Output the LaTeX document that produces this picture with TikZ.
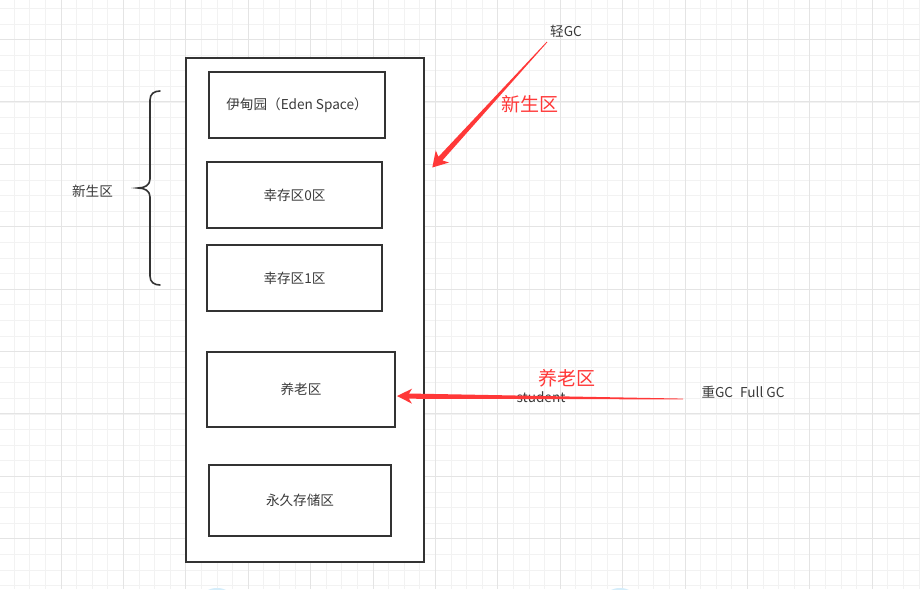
\documentclass[tikz,border=0pt]{standalone}
\usepackage{fontspec}
\setmainfont{Noto Sans CJK SC}
\usetikzlibrary{calc}
\definecolor{gridminor}{HTML}{F2F2F2}
\definecolor{gridmajor}{HTML}{E4E4E4}
\definecolor{boxline}{HTML}{333333}
\definecolor{txt}{HTML}{3A3A3A}
\definecolor{arrred}{HTML}{FF3838}
\definecolor{blob}{HTML}{D5EDFA}
\newcommand\taperarrow[4]{% tail, tip, head half width, shaft half width
  \coordinate (tmpB) at ($(#2)!12pt!(#1)$);
  \coordinate (tmpW) at ($(#2)!15pt!(#1)$);
  \fill[arrred] ($(#1)!0.4pt!90:(#2)$) -- ($(tmpB)!#4!90:(#2)$) -- ($(tmpW)!#3!90:(#2)$) -- (#2)
    -- ($(tmpW)!#3!-90:(#2)$) -- ($(tmpB)!#4!-90:(#2)$) -- ($(#1)!0.4pt!-90:(#2)$) -- cycle;
}
\begin{document}
\begin{tikzpicture}[x=1pt,y=-1pt,
  minorg/.style={draw=gridminor, line width=0.8pt},
  majorg/.style={draw=gridmajor, line width=0.9pt},
  box/.style={draw=boxline, line width=1.8pt, fill=white, inner sep=0pt,
    font=\fontsize{13.6}{15}\selectfont, text=txt},
  outerbox/.style={draw=boxline, line width=1.8pt, fill=white, inner sep=0pt},
  lbl/.style={font=\fontsize{13.6}{15}\selectfont, text=txt, inner sep=0pt},
  redlbl/.style={font=\fontsize{19}{21}\selectfont, text=arrred, inner sep=0pt},
  bracestyle/.style={draw=boxline, line width=1.6pt, line cap=round}]
\useasboundingbox (0,0) rectangle (920,589);
\fill[white] (0,0) rectangle (920,589);
% grid
\foreach \i in {0,...,58} \draw[minorg] ({14.2+15.6*\i},0) -- ++(0,589);
\foreach \j in {0,...,37} \draw[minorg] (0,{8.3+15.6*\j}) -- ++(920,0);
\foreach \i in {0,...,14} \draw[majorg] ({61+62.4*\i},0) -- ++(0,589);
\foreach \j in {0,...,9} \draw[majorg] (0,{39.5+62.4*\j}) -- ++(920,0);
% blobs at bottom edge
\fill[blob] (217,596) ellipse (14 and 8);
\fill[blob] (620,596) ellipse (14 and 8);
% heap
\node[outerbox, minimum width=238pt, minimum height=504pt] (heap) at (305,310) {};
\node[box, minimum width=176pt, minimum height=66pt] (eden) at (297,105) {伊甸园（Eden Space）};
\node[box, minimum width=175pt, minimum height=66pt] (s0) at (294.5,195) {幸存区0区};
\node[box, minimum width=175pt, minimum height=66pt] (s1) at (294.5,278) {幸存区1区};
\node[box, minimum width=188pt, minimum height=75pt] (old) at (301,389.5) {养老区};
\node[box, minimum width=182pt, minimum height=71pt] (perm) at (300,500.5) {永久存储区};
% brace
\draw[bracestyle] (160,91) .. controls (154,91) and (150,94) .. (150,100) -- (150,179)
  .. controls (150,185) and (145,188) .. (138,188)
  .. controls (145,188) and (150,191) .. (150,197) -- (150,276)
  .. controls (150,282) and (154,285) .. (160,285);
\node[lbl] (younglbl) at (92.5,191) {新生区};
% labels
\node[lbl] (light) at (566,31) {轻GC};
\node[redlbl] (youngred) at (530,104) {新生区};
\node[redlbl] (oldred) at (567,378) {养老区};
\node[lbl] (student) at (541,397) {student};
\node[lbl] (heavy) at (743,392) {重GC\hspace{7pt}Full GC};
% arrows
\coordinate (gc1) at (547,42);
\coordinate (young) at (432.3,167.5);
\coordinate (gc2) at (683,399);
\coordinate (oldtip) at (397,396);
\taperarrow{gc1}{young}{9pt}{2.7pt}
\taperarrow{gc2}{oldtip}{7.5pt}{2.6pt}
\end{tikzpicture}
\end{document}
